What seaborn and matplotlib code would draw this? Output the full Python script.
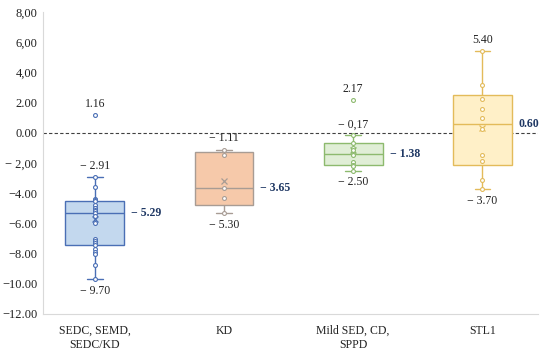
import numpy as np
import pandas as pd
import matplotlib
matplotlib.use("Agg")
import matplotlib.pyplot as plt
import matplotlib.cbook as cbook
import seaborn as sns

# ---------------- data ----------------
categories = ["SEDC, SEMD,\nSEDC/KD", "KD", "Mild SED, CD,\nSPPD", "STL1"]

sedc_values = [1.16, -2.91, -3.60, -4.40, -4.45, -4.50, -4.75, -4.95, -5.00, -5.10,
               -5.20, -5.29, -5.50, -6.00, -7.00, -7.15, -7.30, -7.40, -7.70, -7.90,
               -8.05, -8.75, -9.70]
kd_values = [-1.11, -1.47, -3.65, -4.30, -5.30]
mild_values = [2.17, -0.17, -0.70, -1.00, -1.15, -1.38, -1.45, -1.90, -2.15, -2.20, -2.50]
stl1_values = [5.40, 3.15, 2.25, 1.60, 0.95, 0.25, -1.45, -1.85, -3.10, -3.70]

group_values = [sedc_values, kd_values, mild_values, stl1_values]

top_texts = ["− 2.91", "− 1.11", "− 0,17", "5.40"]
bottom_texts = ["− 9.70", "− 5.30", "− 2.50", "− 3.70"]
median_texts = ["− 5.29", "− 3.65", "− 1.38", "0.60"]
outlier_texts = [["1.16"], [], ["2.17"], []]

y_ticks = [-12, -10, -8, -6, -4, -2, 0, 2, 4, 6, 8]
y_tick_labels = ["−12.00", "−10.00", "−8.00", "−6.00", "−4.00", "− 2,00",
                 "0.00", "2.00", "4,00", "6,00", "8,00"]

fill_colors = ["#c3d8ee", "#f6c9aa", "#e0eed6", "#fff0c8"]
edge_colors = ["#4a6fb5", "#a89c94", "#8dba6e", "#e3bb5a"]
label_color = "#1f3864"

# ---------------- Excel-style (exclusive) quartiles ----------------
_orig_stats = cbook.boxplot_stats


def excel_stats(X, whis=1.5, bootstrap=None, labels=None, autorange=False):
    out = _orig_stats(X, whis=whis, bootstrap=bootstrap, labels=labels,
                      autorange=autorange)
    if isinstance(X, np.ndarray) and X.ndim == 1:
        X = [X]
    for st, x in zip(out, X):
        x = np.asarray(x, dtype=float)
        q1, med, q3 = np.percentile(x, [25, 50, 75], method="weibull")
        iqr = q3 - q1
        lo, hi = q1 - whis * iqr, q3 + whis * iqr
        inside = x[(x >= lo) & (x <= hi)]
        st.update(q1=q1, med=med, q3=q3, iqr=iqr, mean=x.mean(),
                  whislo=inside.min(), whishi=inside.max(),
                  fliers=x[(x < lo) | (x > hi)])
    return out


cbook.boxplot_stats = excel_stats

# ---------------- plot ----------------
sns.set_theme(style="white")
plt.rcParams["font.family"] = ["Liberation Serif", "DejaVu Serif"]

fig = plt.figure(figsize=(5.5, 3.55), dpi=100)
ax = fig.add_axes([0.078, 0.1155, 0.9, 0.8505])

ax.axhline(0, color="#404040", lw=0.8, ls=(0, (3, 2)), zorder=1)

box_width = 0.456
for i, (cat, vals) in enumerate(zip(categories, group_values)):
    df = pd.DataFrame({"group": [cat] * len(vals), "value": vals})
    sns.boxplot(data=df, x="group", y="value", order=categories, ax=ax,
                color=fill_colors[i], linecolor=edge_colors[i], linewidth=1.0,
                saturation=1, width=box_width, showfliers=False,
                showmeans=True, capwidths=0.12,
                meanprops=dict(marker="x", markeredgecolor=edge_colors[i],
                               markersize=4.5, markeredgewidth=0.9),
                zorder=2)
    sns.stripplot(data=df, x="group", y="value", order=categories, ax=ax,
                  jitter=False, color="white", edgecolor=edge_colors[i],
                  linewidth=0.8, size=2.8, zorder=3)

    st = excel_stats([np.asarray(vals, dtype=float)])[0]
    ax.annotate(top_texts[i], (i, st["whishi"]), xytext=(0, 8),
                textcoords="offset points", ha="center", va="center",
                fontsize=8.5, color="#222222")
    ax.annotate(bottom_texts[i], (i, st["whislo"]), xytext=(0, -8.5),
                textcoords="offset points", ha="center", va="center",
                fontsize=8.5, color="#222222")
    ax.annotate(median_texts[i], (i + box_width / 2, st["med"]), xytext=(5, 0),
                textcoords="offset points", ha="left", va="center",
                fontsize=8.5, color=label_color, fontweight="bold")
    for txt, fv in zip(outlier_texts[i], sorted(st["fliers"], reverse=True)):
        ax.annotate(txt, (i, fv), xytext=(0, 8), textcoords="offset points",
                    ha="center", va="center", fontsize=8.5, color="#222222")

ax.set_xlim(-0.402, 3.43)
ax.set_ylim(-12, 8)
ax.set_yticks(y_ticks)
ax.set_yticklabels(y_tick_labels)
ax.set_xlabel("")
ax.set_ylabel("")
ax.tick_params(axis="both", length=0, labelsize=9, colors="#222222")
ax.tick_params(axis="x", pad=8, labelsize=8.5)
ax.tick_params(axis="y", pad=4)
for lab in ax.get_xticklabels():
    lab.set_linespacing(1.25)

for s in ["top", "right"]:
    ax.spines[s].set_visible(False)
for s in ["left", "bottom"]:
    ax.spines[s].set_color("#d9d9d9")
    ax.spines[s].set_linewidth(0.8)

fig.savefig("out.png", dpi=100)
